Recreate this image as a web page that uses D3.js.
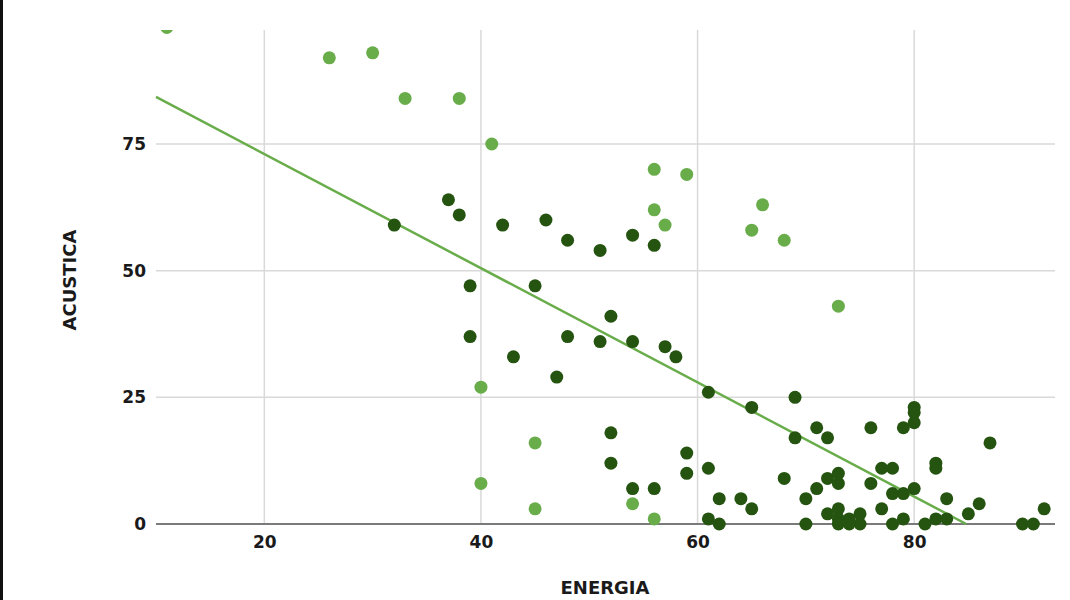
<!DOCTYPE html>
<html>
<head>
<meta charset="utf-8">
<script src="https://cdn.jsdelivr.net/npm/d3@7"></script>
<style>
  html, body { margin: 0; padding: 0; background: #ffffff; }
  svg { display: block; }
</style>
</head>
<body>
<svg id="chart" width="1070" height="600"></svg>
<script>
// ---- data ----
const xTicks = [20, 40, 60, 80];
const yTicks = [0, 25, 50, 75];
const xTitle = "ENERGIA";
const yTitle = "ACUSTICA";

// light green series [energia, acustica]
const serieClaro = [
  [11,98],[26,92],[30,93],[33,84],[38,84],[41,75],[56,70],[59,69],[56,62],[57,59],
  [66,63],[65,58],[68,56],[73,43],[40,27],[45,16],[40,8],[45,3],[54,4],[56,1]
];
// dark green series [energia, acustica]
const serieOscuro = [
  [37,64],[38,61],[32,59],[42,59],[46,60],[48,56],[51,54],[54,57],[56,55],
  [39,47],[45,47],[52,41],[39,37],[48,37],[51,36],[54,36],[57,35],[58,33],[43,33],[47,29],
  [61,26],[52,18],[52,12],[59,14],[59,10],[61,11],[54,7],[56,7],[62,5],[61,1],[62,0],
  [65,23],[69,25],[69,17],[71,19],[72,17],[76,19],[79,19],[80,23],[80,22],[80,20],
  [68,9],[72,9],[73,10],[73,8],[71,7],[70,5],[76,8],[64,5],[65,3],[70,0],[72,2],[73,3],
  [73,1],[74,1],[75,2],[75,0],[74,0],[73,0],
  [77,11],[78,11],[78,6],[79,6],[80,7],[82,12],[82,11],[83,5],[87,16],[86,4],[85,2],
  [92,3],[90,0],[91,0],[77,3],[79,1],[78,0],[81,0],[82,1],[83,1]
];
// trend line: endpoints [energia, acustica]
const tendencia = [[10, 84.3], [84.8, 0]];

// ---- layout ----
const svg = d3.select("#chart");
const pL = 156, pR = 1055, pT = 30, pB = 524;
const x = d3.scaleLinear().domain([10, 93]).range([pL, pR]);
const y = d3.scaleLinear().domain([0, 97.5]).range([pB, pT]);

const colClaro = "#69ad4b";
const colOscuro = "#245410";

// left frame bar
svg.append("rect").attr("x", 0).attr("y", 0).attr("width", 3).attr("height", 600).attr("fill", "#111");

svg.append("defs").append("clipPath").attr("id", "clip")
  .append("rect").attr("x", pL - 10).attr("y", pT).attr("width", pR - pL + 20).attr("height", pB - pT + 10);

// grid
const grid = svg.append("g");
grid.selectAll("line.v").data(xTicks).join("line").attr("class", "v")
  .attr("x1", d => x(d)).attr("x2", d => x(d))
  .attr("y1", pT).attr("y2", pB)
  .attr("stroke", "#d9d9d9").attr("stroke-width", 1.5);
grid.selectAll("line.h").data(yTicks.filter(d => d > 0)).join("line").attr("class", "h")
  .attr("x1", pL).attr("x2", pR)
  .attr("y1", d => y(d)).attr("y2", d => y(d))
  .attr("stroke", "#d9d9d9").attr("stroke-width", 1.5);

// axes
const fontFam = "'DejaVu Sans', Verdana, sans-serif";
const xAxis = svg.append("g").attr("transform", `translate(0,${pB})`)
  .call(d3.axisBottom(x).tickValues(xTicks).tickSize(0).tickPadding(12));
xAxis.select(".domain").attr("stroke", "#7a7a7a").attr("stroke-width", 2)
  .attr("d", `M${pL},0H${pR}`);
xAxis.selectAll("text").attr("font-family", fontFam).attr("font-weight", "bold")
  .attr("font-size", 17).attr("fill", "#1a1a1a");

const yAxis = svg.append("g").attr("transform", `translate(${pL},0)`)
  .call(d3.axisLeft(y).tickValues(yTicks).tickSize(0).tickPadding(10));
yAxis.select(".domain").remove();
yAxis.selectAll("text").attr("font-family", fontFam).attr("font-weight", "bold")
  .attr("font-size", 17).attr("fill", "#1a1a1a");

// titles
svg.append("text").text(xTitle)
  .attr("x", 605).attr("y", 594).attr("text-anchor", "middle")
  .attr("font-family", fontFam).attr("font-weight", "bold").attr("font-size", 18).attr("fill", "#1a1a1a");
svg.append("text").text(yTitle)
  .attr("transform", "translate(76,280) rotate(-90)").attr("text-anchor", "middle")
  .attr("font-family", fontFam).attr("font-weight", "bold").attr("font-size", 18).attr("fill", "#1a1a1a");

const plot = svg.append("g").attr("clip-path", "url(#clip)");

// trend line
plot.append("path").datum(tendencia)
  .attr("d", d3.line().x(d => x(d[0])).y(d => y(d[1])))
  .attr("fill", "none").attr("stroke", colClaro).attr("stroke-width", 2.5);

// points
plot.append("g").selectAll("circle").data(serieOscuro).join("circle")
  .attr("cx", d => x(d[0])).attr("cy", d => y(d[1])).attr("r", 6.5).attr("fill", colOscuro);
plot.append("g").selectAll("circle").data(serieClaro).join("circle")
  .attr("cx", d => x(d[0])).attr("cy", d => y(d[1])).attr("r", 6.5).attr("fill", colClaro);
</script>
</body>
</html>
